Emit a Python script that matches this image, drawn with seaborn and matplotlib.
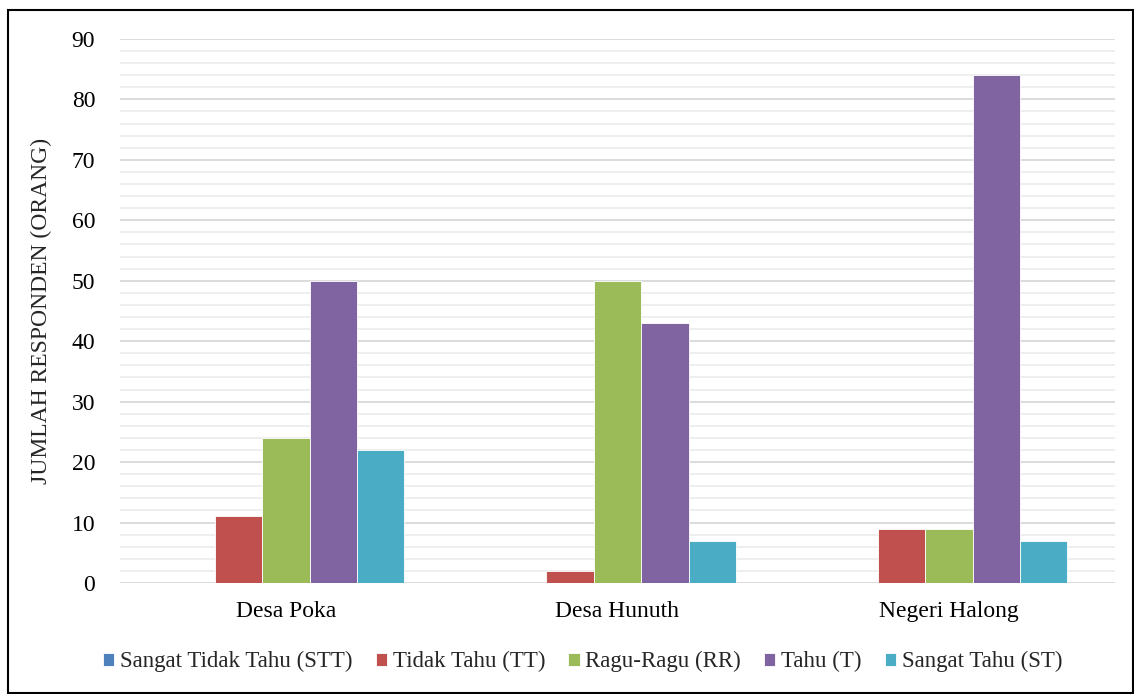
import pandas as pd
import matplotlib.pyplot as plt
import seaborn as sns
from matplotlib.patches import Rectangle
from matplotlib.ticker import MultipleLocator

desa = ['Desa Poka', 'Desa Hunuth', 'Negeri Halong']
kategori = ['Sangat Tidak Tahu (STT)', 'Tidak Tahu (TT)', 'Ragu-Ragu (RR)', 'Tahu (T)', 'Sangat Tahu (ST)']
stt = [0, 0, 0]
tt = [11, 2, 9]
rr = [24, 50, 9]
t = [50, 43, 84]
st = [22, 7, 7]
warna = ['#4F81BD', '#C0504D', '#9BBB59', '#8064A2', '#4BACC6']

rows = []
for k, vals in zip(kategori, [stt, tt, rr, t, st]):
    for d, v in zip(desa, vals):
        rows.append({'Desa': d, 'Kategori': k, 'Jumlah': v})
df = pd.DataFrame(rows)

sns.set_style('white')
plt.rcParams['font.family'] = ['Liberation Serif', 'DejaVu Serif']

fig = plt.figure(figsize=(11.34, 6.94), dpi=100)
ax = fig.add_axes([0.106, 0.160, 0.877, 0.784])
sns.barplot(data=df, x='Desa', y='Jumlah', hue='Kategori', hue_order=kategori,
            palette=warna, width=0.715, edgecolor='white', linewidth=0.6,
            saturation=1, ax=ax, legend=True)

ax.set_ylim(0, 90)
ax.set_xlim(-0.5, 2.5)
ax.yaxis.set_major_locator(MultipleLocator(10))
ax.yaxis.set_minor_locator(MultipleLocator(2))
ax.grid(axis='y', which='major', color='#D9D9D9', linewidth=1.3)
ax.grid(axis='y', which='minor', color='#EDEDED', linewidth=1.3)
ax.set_axisbelow(True)
for s in ax.spines.values():
    s.set_visible(False)
ax.tick_params(axis='both', length=0, labelsize=17, colors='black')
ax.tick_params(axis='y', pad=18)
ax.tick_params(axis='x', pad=13)
ax.set_xlabel('')
ax.set_ylabel('JUMLAH RESPONDEN (ORANG)', fontsize=17, labelpad=14)

ax.legend(loc='center', bbox_to_anchor=(0.5 - 0.035, -0.145), ncol=5, frameon=False,
          fontsize=16.5, handlelength=0.5, handleheight=0.5, handletextpad=0.25,
          columnspacing=1.0, borderpad=0)

fig.patches.append(Rectangle((8 / 1134, 1 / 694), 1 - 9 / 1134, 1 - 11 / 694,
                             transform=fig.transFigure, fill=False,
                             edgecolor='black', linewidth=1.5))

fig.savefig('out.png', dpi=100)
